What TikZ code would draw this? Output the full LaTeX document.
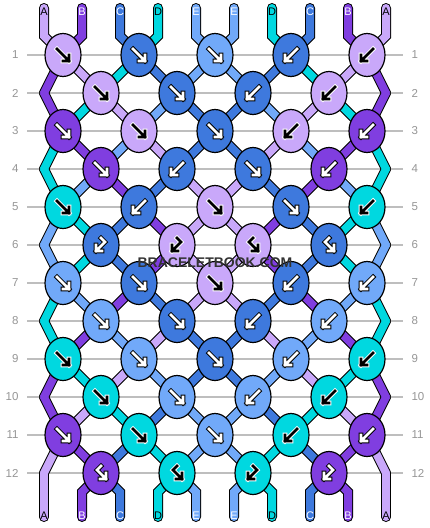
\documentclass[tikz,border=0pt]{standalone}
\usepackage{fontspec}
\setmainfont{Liberation Sans}
\usetikzlibrary{shapes.geometric}

\definecolor{strA}{RGB}{201,168,250}
\definecolor{strB}{RGB}{128,62,224}
\definecolor{strC}{RGB}{62,121,221}
\definecolor{strD}{RGB}{0,216,224}
\definecolor{strE}{RGB}{113,169,249}
\colorlet{tipA}{black} \colorlet{rimA}{white}
\colorlet{tipB}{white} \colorlet{rimB}{black}
\colorlet{tipC}{white} \colorlet{rimC}{black}
\colorlet{tipD}{black} \colorlet{rimD}{white}
\colorlet{tipE}{white} \colorlet{rimE}{black}
\definecolor{rowgray}{RGB}{150,150,150}
\definecolor{linegray}{RGB}{190,190,190}
\definecolor{markgray}{RGB}{51,51,51}

% arrow shapes inside the knots
\def\arrf{(-6,-6) -- (6,6) (0,6) -- (6,6) -- (6,0)}
\def\arrb{(6,-6) -- (-6,6) (0,6) -- (-6,6) -- (-6,0)}
\def\arrfb{(0,-7) -- (-4,-3) -- (5,6) (-1,6) -- (5,6) -- (5,0)}
\def\arrbf{(0,-7) -- (4,-3) -- (-5,6) (1,6) -- (-5,6) -- (-5,0)}

\tikzset{
  knot/.style={ellipse, draw=black, line width=1.2pt, minimum width=36pt, minimum height=43pt, inner sep=0pt},
  rowline/.style={draw=linegray, line width=1.5pt},
  rownum/.style={text=rowgray, font=\fontsize{11.5}{12}\selectfont},
  letter/.style={font=\fontsize{11}{11}\selectfont, inner sep=0pt},
  wmark/.style={font=\fontsize{14}{14}\selectfont\bfseries, inner sep=0pt},
}

\begin{document}
\begin{tikzpicture}[x=1pt,y=-1pt]
  \useasboundingbox[fill=white] (0,0) rectangle (430,528);

  % rows
  \foreach \r in {1,...,12}{
    \draw[rowline] (27,17+38*\r) -- (403,17+38*\r);
    \node[rownum, anchor=east] (nl-\r) at (22,17+38*\r) {\r};
    \node[rownum, anchor=west] (nr-\r) at (408,17+38*\r) {\r};
  }

  % strand positions
  \foreach \p in {1,...,10}{
    \coordinate (u-\p) at (6+38*\p,8);
    \coordinate (t-\p) at (6+38*\p,36);
    \coordinate (b-\p) at (6+38*\p,492);
    \coordinate (d-\p) at (6+38*\p,517);
    \foreach \r in {1,...,12}{
      \pgfmathtruncatemacro{\qx}{isodd(\r) ? 63+76*int((\p-1)/2) : (\p==1 ? 44 : (\p==10 ? 386 : 101+76*int((\p-2)/2)))}
      \coordinate (q-\r-\p) at (\qx,17+38*\r);
    }
  }

  % strands, outline first then colour
  \foreach \w/\fl in {10/0,8/1}{
    \foreach \r/\s in {0/{A,B,C,D,E,E,D,C,B,A}, 1/{B,A,D,C,E,E,C,D,A,B},
                       2/{B,D,A,E,C,C,E,A,D,B}, 3/{D,B,E,A,C,C,A,E,B,D},
                       4/{D,E,B,C,A,A,C,B,E,D}, 5/{E,D,C,B,A,A,B,C,D,E},
                       6/{E,D,C,B,A,A,B,C,D,E}, 7/{D,E,B,C,A,A,C,B,E,D},
                       8/{D,B,E,A,C,C,A,E,B,D}, 9/{B,D,A,E,C,C,E,A,D,B},
                       10/{B,A,D,C,E,E,C,D,A,B}, 11/{A,B,C,D,E,E,D,C,B,A},
                       12/{A,B,C,D,E,E,D,C,B,A}}{
      \pgfmathtruncatemacro{\rn}{\r+1}
      \foreach \c [count=\p] in \s{
        \ifnum\fl=1 \def\col{str\c}\else\def\col{black}\fi
        \ifnum\r=0
          \draw[line width=\w pt, draw=\col, line cap=round] (u-\p) -- (t-\p) -- (q-1-\p);
        \else\ifnum\r=12
          \draw[line width=\w pt, draw=\col, line cap=round] (q-12-\p) -- (b-\p) -- (d-\p);
        \else
          \draw[line width=\w pt, draw=\col, line cap=round] (q-\r-\p) -- (q-\rn-\p);
        \fi\fi
      }
    }
  }

  % knots
  \foreach \r/\row in {1/{A/f,C/f,E/f,C/b,A/b}, 2/{A/f,C/f,C/b,A/b},
                       3/{B/f,A/f,C/f,A/b,B/b}, 4/{B/f,C/b,C/f,B/b},
                       5/{D/f,C/b,A/f,C/f,D/b}, 6/{C/bf,A/bf,A/fb,C/fb},
                       7/{E/f,C/f,A/f,C/b,E/b}, 8/{E/f,C/f,C/b,E/b},
                       9/{D/f,E/f,C/f,E/b,D/b}, 10/{D/f,E/f,E/b,D/b},
                       11/{B/f,D/f,E/f,D/b,B/b}, 12/{B/fb,D/fb,D/bf,B/bf}}{
    \foreach \c/\kt [count=\j] in \row{
      \pgfmathtruncatemacro{\p}{2*\j-mod(\r,2)}
      \node[knot, fill=str\c] (k-\r-\j) at (q-\r-\p) {};
      \expandafter\let\expandafter\arrpath\csname arr\kt\endcsname
      \foreach \lw/\cl in {4.6/rim\c, 2.6/tip\c}
        \draw[shift={(k-\r-\j.center)}, line width=\lw pt, draw=\cl, line cap=rect] \arrpath;
    }
  }

  % strand letters
  \foreach \c [count=\p] in {A,B,C,D,E,E,D,C,B,A}{
    \node[letter, text=tip\c] (lt-\p) at (6+38*\p,12) {\c};
    \node[letter, text=tip\c] (lb-\p) at (6+38*\p,516) {\c};
  }

  \node[wmark, text=markgray] (site) at (215,263) {BRACELETBOOK.COM};
\end{tikzpicture}
\end{document}
